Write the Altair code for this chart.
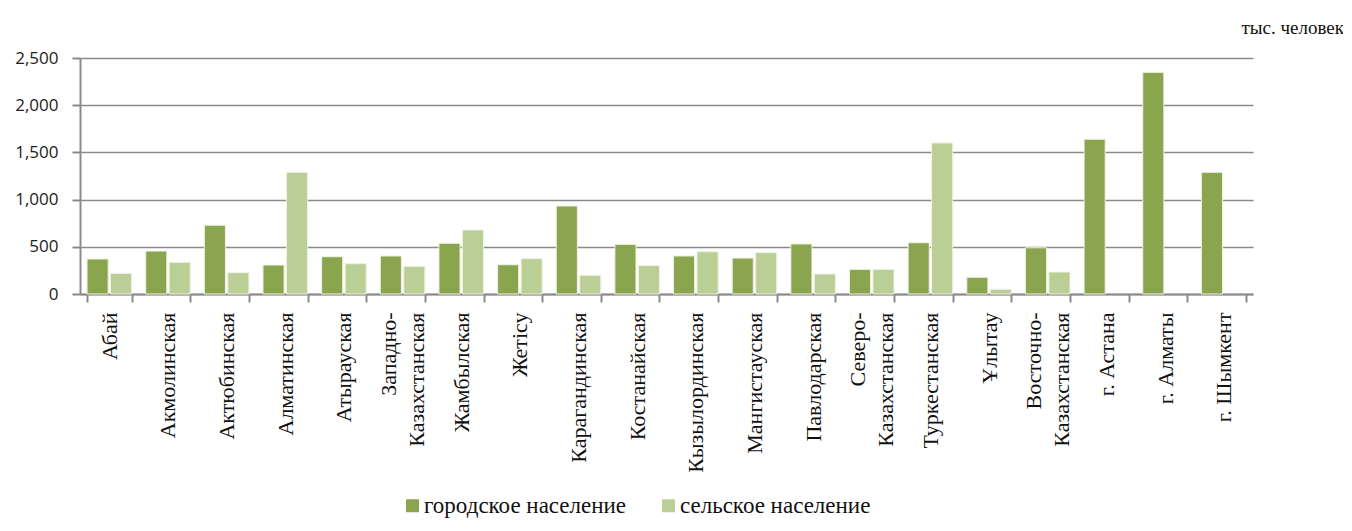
import altair as alt
import pandas as pd

regions = [
    "Абай", "Акмолинская", "Актюбинская", "Алматинская", "Атырауская",
    "Западно-\nКазахстанская", "Жамбылская", "Жетісу", "Карагандинская",
    "Костанайская", "Кызылординская", "Мангистауская", "Павлодарская",
    "Северо-\nКазахстанская", "Туркестанская", "Ұлытау",
    "Восточно-\nКазахстанская", "г. Астана", "г. Алматы", "г. Шымкент",
]
urban = [371, 455, 728, 307, 395, 403, 537, 310, 932, 526, 403, 381, 530,
         261, 543, 177, 490, 1639, 2348, 1289]
rural = [219, 336, 226, 1289, 321, 293, 678, 374, 198, 300, 448, 438, 212,
         261, 1600, 50, 233, None, None, None]

series = ["городское население", "сельское население"]
colors = ["#8BA54F", "#BACE95"]

rows = []
for r, u, ru in zip(regions, urban, rural):
    rows.append({"region": r, "type": series[0], "value": u})
    if ru is not None:
        rows.append({"region": r, "type": series[1], "value": ru})
df = pd.DataFrame(rows)

bars = alt.Chart(df).mark_bar(stroke="#eef3e4", strokeWidth=1).encode(
    x=alt.X(
        "region:N",
        sort=regions,
        title=None,
        scale=alt.Scale(paddingInner=0.24, paddingOuter=0.12),
        axis=alt.Axis(
            labelAngle=-90,
            labelAlign="right",
            labelBaseline="middle",
            labelFont="Liberation Serif",
            labelFontSize=22,
            labelColor="#111",
            labelLineHeight=28,
            labelPadding=10,
            labelOffset={"condition": {"test": "isString(datum.value) && indexof(datum.value, '\\n') >= 0",
                                       "value": -14},
                         "value": 0},
            labelExpr="isString(datum.value) ? split(datum.value, '\\n') : ''",
            tickBand="extent",
            tickSize=8,
            tickColor="#8a8a8a",
            tickWidth=2,
            domainColor="#8a8a8a",
            domainWidth=2,
            grid=False,
        ),
    ),
    xOffset=alt.XOffset("type:N", sort=series,
                        scale=alt.Scale(paddingInner=0.1, paddingOuter=0)),
    y=alt.Y(
        "value:Q",
        title=None,
        scale=alt.Scale(domain=[0, 2500], nice=False),
        axis=alt.Axis(
            values=[0, 500, 1000, 1500, 2000, 2500],
            format=",.0f",
            labelFont="Open Sans",
            labelFontSize=17,
            labelColor="#222",
            labelPadding=14,
            tickSize=8,
            tickColor="#8a8a8a",
            tickWidth=2,
            domainColor="#8a8a8a",
            domainWidth=2,
            gridColor="#8a8a8a",
            gridWidth=1.6,
        ),
    ),
    color=alt.Color(
        "type:N",
        sort=series,
        scale=alt.Scale(domain=series, range=colors),
        legend=alt.Legend(
            title=None,
            orient="none",
            legendX=321,
            legendY=436,
            direction="horizontal",
            columns=2,
            columnPadding=30,
            symbolType="square",
            symbolSize=169,
            symbolStrokeWidth=0,
            symbolOpacity=1,
            labelFont="Liberation Serif",
            labelFontSize=23,
            labelColor="#111",
            labelOffset=0,
            labelLimit=0,
            padding=0,
        ),
    ),
)

unit = alt.Chart(alt.Data(values=[{"t": "тыс. человек"}])).mark_text(
    font="Liberation Serif", fontSize=19, align="right", baseline="middle",
    color="#111",
).encode(x=alt.value(1264), y=alt.value(-30), text="t:N")

chart = alt.layer(bars, unit).properties(
    width=1173,
    height=236,
    autosize=alt.AutoSizeParams(type="none"),
    padding={"left": 72, "top": 50, "right": 90, "bottom": 225},
).configure_view(stroke=None)

chart.save("out.html", embed_options={"renderer": "svg", "actions": False})
